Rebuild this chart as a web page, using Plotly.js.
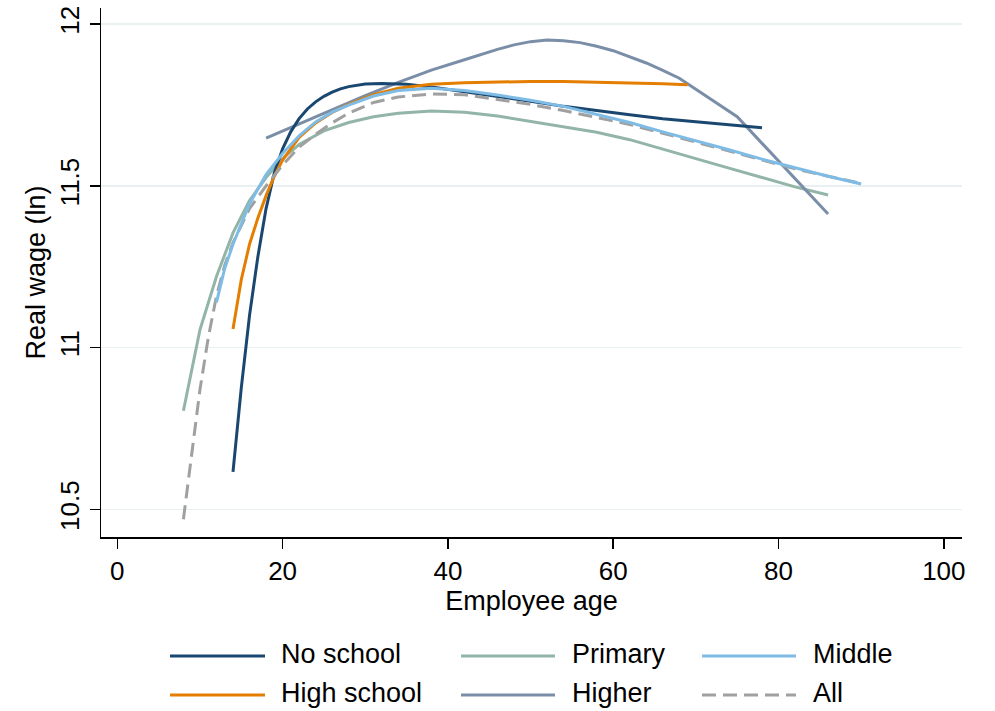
<!DOCTYPE html>
<html>
<head>
<meta charset="utf-8">
<script src="https://cdn.plot.ly/plotly-3.0.1.min.js"></script>
<style>html,body{margin:0;padding:0;background:#fff;}#chart{width:995px;height:711px;}</style>
</head>
<body>
<div id="chart"></div>
<script>
// ---- data ----
const seriesNames = ["No school", "Primary", "Middle", "High school", "Higher", "All"];

const noSchoolAge  = [14, 15, 16, 17, 18, 19, 20, 21, 22, 23, 24, 25, 26, 27, 28, 29, 30, 32, 35, 38, 42, 46, 50, 54, 58, 62, 66, 70, 74, 78];
const noSchoolWage = [10.616, 10.875, 11.10, 11.28, 11.43, 11.54, 11.615, 11.668, 11.708, 11.738, 11.76, 11.777, 11.79, 11.80, 11.807, 11.812, 11.815, 11.817, 11.814, 11.806, 11.792, 11.778, 11.762, 11.746, 11.732, 11.72, 11.708, 11.698, 11.689, 11.68];

const primaryAge  = [8, 10, 12, 14, 16, 18, 20, 22, 25, 28, 31, 34, 38, 42, 46, 50, 54, 58, 62, 66, 70, 74, 78, 82, 86];
const primaryWage = [10.805, 11.055, 11.22, 11.355, 11.455, 11.526, 11.585, 11.628, 11.67, 11.696, 11.714, 11.725, 11.732, 11.728, 11.716, 11.70, 11.684, 11.666, 11.643, 11.613, 11.584, 11.555, 11.526, 11.497, 11.472];

const middleAge  = [12, 13, 14, 16, 18, 20, 22, 24, 26, 28, 31, 34, 38, 42, 46, 50, 54, 58, 62, 66, 70, 74, 78, 82, 86, 90];
const middleWage = [11.14, 11.245, 11.32, 11.445, 11.535, 11.60, 11.655, 11.698, 11.728, 11.75, 11.778, 11.795, 11.802, 11.795, 11.781, 11.765, 11.746, 11.722, 11.696, 11.667, 11.64, 11.612, 11.583, 11.556, 11.53, 11.506];

const highSchoolAge  = [14, 15, 16, 17, 18, 19, 20, 22, 24, 26, 28, 31, 34, 38, 42, 46, 50, 54, 58, 62, 66, 69];
const highSchoolWage = [11.058, 11.21, 11.32, 11.40, 11.47, 11.53, 11.58, 11.65, 11.695, 11.727, 11.752, 11.782, 11.802, 11.814, 11.819, 11.822, 11.823, 11.823, 11.821, 11.819, 11.816, 11.813];

const higherAge  = [18, 22, 26, 30, 34, 38, 42, 44, 46, 48, 50, 52, 54, 56, 58, 60, 62, 64, 66, 68, 75, 86];
const higherWage = [11.648, 11.692, 11.736, 11.779, 11.82, 11.858, 11.89, 11.907, 11.922, 11.936, 11.946, 11.951, 11.949, 11.943, 11.932, 11.918, 11.90, 11.88, 11.857, 11.833, 11.714, 11.413];

const allAge  = [8, 9, 10, 11, 12, 13, 14, 16, 18, 20, 22, 24, 26, 28, 31, 34, 38, 42, 46, 50, 54, 58, 62, 66, 70, 74, 78, 82, 86, 90];
const allWage = [10.47, 10.675, 10.87, 11.03, 11.16, 11.255, 11.325, 11.43, 11.50, 11.565, 11.62, 11.66, 11.695, 11.725, 11.758, 11.775, 11.784, 11.782, 11.768, 11.752, 11.733, 11.712, 11.69, 11.663, 11.635, 11.607, 11.579, 11.553, 11.53, 11.508];

const xTickVals = [0, 20, 40, 60, 80, 100];
const yTickVals = [10.5, 11, 11.5, 12];
const yTickText = ["10.5", "11", "11.5", "12"];

// ---- styling ----
const colors = ["#1a476f", "#93b5a8", "#7ebce6", "#e37e00", "#7a8ea8", "#a0a0a0"];
const dashes = ["solid", "solid", "solid", "solid", "solid", "14px,7px"];
const xs = [noSchoolAge, primaryAge, middleAge, highSchoolAge, higherAge, allAge];
const ys = [noSchoolWage, primaryWage, middleWage, highSchoolWage, higherWage, allWage];
const drawOrder = [1, 4, 0, 3, 5, 2];

const FONT = "Liberation Sans, Arial, Helvetica, sans-serif";
const W = 995, H = 711;
const M = {l: 101, r: 33, t: 8, b: 174};
const pw = W - M.l - M.r, ph = H - M.t - M.b;
const px2x = p => (p - M.l) / pw;
const px2y = p => (H - M.b - p) / ph;

const traces = drawOrder.map(i => ({
  type: "scatter", mode: "lines", name: seriesNames[i],
  x: xs[i], y: ys[i],
  line: {color: colors[i], width: 3, dash: dashes[i]},
  showlegend: false, hoverinfo: "x+y+name"
}));

// manual legend, 3 columns x 2 rows (Stata style)
const colLine0 = [170, 461, 702];
const colLine1 = [265, 555, 796];
const colText = [279, 570, 811];
const rowY = [656, 695];
const shapes = [], annotations = [];
seriesNames.forEach((n, i) => {
  const c = i % 3, r = Math.floor(i / 3);
  shapes.push({type: "line", xref: "paper", yref: "paper",
    x0: px2x(colLine0[c]), x1: px2x(colLine1[c]), y0: px2y(rowY[r]), y1: px2y(rowY[r]),
    line: {color: colors[i], width: 3, dash: dashes[i]}});
  annotations.push({xref: "paper", yref: "paper", x: px2x(colText[c]), y: px2y(rowY[r] - 2),
    xanchor: "left", yanchor: "middle", showarrow: false, text: n,
    font: {family: FONT, size: 27, color: "#000"}});
});

const layout = {
  width: W, height: H,
  margin: {l: M.l, r: M.r, t: M.t, b: M.b, pad: 0},
  paper_bgcolor: "#fff", plot_bgcolor: "#fff",
  font: {family: FONT, color: "#000"},
  showlegend: false,
  xaxis: {
    range: [-1.97, 102.2], tickvals: xTickVals, ticks: "outside", ticklen: 10, tickwidth: 1.5, tickcolor: "#000",
    showline: true, linecolor: "#000", linewidth: 1.5, showgrid: false, zeroline: false,
    tickfont: {family: FONT, size: 26}, automargin: false,
    title: {text: "Employee age", font: {family: FONT, size: 27}, standoff: 6}
  },
  yaxis: {
    range: [10.415, 12.05], tickvals: yTickVals, ticktext: yTickText, tickangle: -90,
    ticks: "outside", ticklen: 10, tickwidth: 1.5, tickcolor: "#000",
    showline: true, linecolor: "#000", linewidth: 1.5,
    showgrid: true, gridcolor: "#e8f0f2", gridwidth: 1.5, zeroline: false,
    tickfont: {family: FONT, size: 26}, automargin: false,
    title: {text: "Real wage (ln)", font: {family: FONT, size: 27}, standoff: 1}
  },
  shapes: shapes, annotations: annotations
};

Plotly.newPlot("chart", traces, layout, {displayModeBar: false, staticPlot: true});
</script>
</body>
</html>
